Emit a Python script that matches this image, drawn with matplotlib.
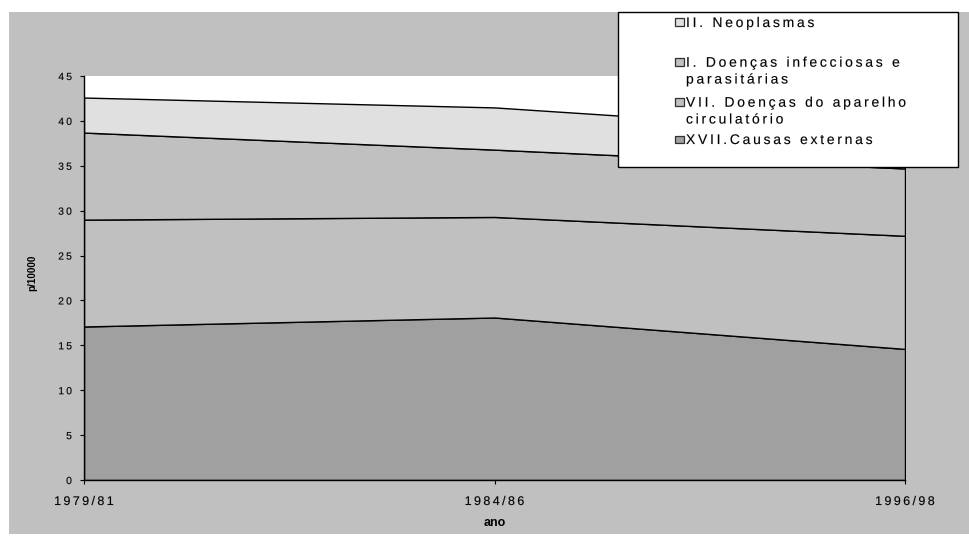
import matplotlib
matplotlib.use("Agg")
import numpy as np
import matplotlib.pyplot as plt
from matplotlib.patches import Rectangle
from matplotlib.patheffects import AbstractPathEffect
from matplotlib.textpath import text_to_path
from matplotlib.path import Path

plt.rcParams['font.family'] = ['Liberation Sans', 'DejaVu Sans']

periods = ["1979/81", "1984/86", "1996/98"]
causas_externas = [17.1, 18.1, 14.6]       # XVII
circulatorio = [11.9, 11.2, 12.6]          # VII
infecciosas = [9.7, 7.5, 7.5]              # I
neoplasmas = [3.9, 4.7, 3.8]               # II

series_names = ["XVII.Causas externas",
                "VII. Doenças do aparelho\ncirculatório",
                "I. Doenças infecciosas e\nparasitárias",
                "II. Neoplasmas"]
colors = ["#A0A0A0", "#C0C0C0", "#C0C0C0", "#E0E0E0"]
yticks = [0, 5, 10, 15, 20, 25, 30, 35, 40, 45]


class Spaced(AbstractPathEffect):
    """Draw a single-line text with extra letter spacing (in pixels)."""

    def __init__(self, text, spacing_px, anchor="left", stroke=0.0):
        super().__init__()
        self.text = text
        self.sp = spacing_px
        self.anchor = anchor
        self.stroke = stroke

    def draw_path(self, renderer, gc, tpath, affine, rgbFace=None):
        s = self.text.get_text()
        prop = self.text.get_fontproperties()
        gc0 = renderer.new_gc()
        gc0.copy_properties(gc)
        gc0.set_linewidth(self.stroke)
        if rgbFace is not None:
            gc0.set_foreground(rgbFace)
        try:
            font = text_to_path._get_font(prop)
            glyph_info, glyph_map, _ = text_to_path.get_glyphs_with_font(font, s)
        except Exception:
            renderer.draw_path(gc0, tpath, affine, rgbFace)
            gc0.restore()
            return
        m = affine.get_matrix()
        scale = float(np.hypot(m[0, 0], m[1, 0])) or 1.0
        spu = self.sp / scale
        n = len(glyph_info)
        extra = max(n - 1, 0) * spu
        shift = {"left": 0.0, "center": -extra / 2, "right": -extra}[self.anchor]
        verts, codes = [], []
        for i, (gid, xp, yp, sc) in enumerate(glyph_info):
            v, c = glyph_map[gid]
            v = np.asarray(v, dtype=float)
            if len(v) == 0:
                continue
            verts.append(v * sc + [xp + i * spu + shift, yp])
            codes.append(np.asarray(c))
        if verts:
            path = Path(np.concatenate(verts), np.concatenate(codes))
            renderer.draw_path(gc0, path, affine, rgbFace)
        gc0.restore()


def space_text(t, px, anchor, stroke=0.1):
    t.set_path_effects([Spaced(t, px, anchor, stroke)])


W, H = 969, 536
fig = plt.figure(figsize=(W / 100, H / 100), dpi=100)
fig.patch.set_facecolor("white")
fig.patches.append(Rectangle((9 / W, 2 / H), 1 - 9 / W, (534 - 12) / H,
                             transform=fig.transFigure, facecolor="#C0C0C0",
                             edgecolor="none", zorder=-10))

ax = fig.add_axes([84 / W, 1 - 480 / H, (905 - 84) / W, (480 - 76) / H])
ax.set_zorder(1)
ax.set_facecolor("white")
x = list(range(len(periods)))
ax.stackplot(x, causas_externas, circulatorio, infecciosas, neoplasmas,
             colors=colors, edgecolor="black", linewidth=1.0)
ax.set_xlim(0, len(periods) - 1)
ax.set_ylim(0, 45)
ax.set_yticks(yticks)
ax.set_xticks(x)
ax.set_xticklabels(periods)
ax.tick_params(axis="both", colors="black", length=3.2, width=0.8,
               direction="out")
ax.tick_params(axis="x", labelsize=9, pad=8.3)
ax.tick_params(axis="y", labelsize=7.4, pad=5.5)
for s in ["top", "right"]:
    ax.spines[s].set_visible(False)
for s in ["left", "bottom"]:
    ax.spines[s].set_linewidth(1.0)

for t in ax.get_xticklabels():
    space_text(t, 2.4, "center")
for t in ax.get_yticklabels():
    space_text(t, 2.2, "right")

ax.set_ylabel("p/10000", fontsize=7.1, fontweight="bold")
ax.yaxis.set_label_coords((37 - 84) / 821, (480 - 272.5) / 404)
fig.text(494.5 / W, 1 - 525.7 / H, "ano", fontsize=9, fontweight="bold",
         ha="center", va="baseline", color="black")

# legend (drawn as a framed box with swatches and labels)
fig.patches.append(Rectangle((618 / W, 1 - 167 / H), (958 - 618) / W, (167 - 12) / H,
                             transform=fig.transFigure, facecolor="white",
                             edgecolor="black", linewidth=1.0, zorder=5))
legend_order = [3, 2, 1, 0]
baselines = [27, 66.7, 106.7, 144]
line_step = 16.8
for idx, base in zip(legend_order, baselines):
    fig.patches.append(Rectangle((675 / W, 1 - (base - 1) / H), 9 / W, 7.5 / H,
                                 transform=fig.transFigure,
                                 facecolor=colors[idx], edgecolor="#303030",
                                 linewidth=0.9, zorder=6))
    for k, line in enumerate(series_names[idx].split("\n")):
        tt = fig.text(686 / W, 1 - (base + k * line_step) / H, line,
                      fontsize=10, color="black", ha="left", va="baseline",
                      zorder=7)
        space_text(tt, 2.75, "left")

fig.savefig("out.png", dpi=100)
